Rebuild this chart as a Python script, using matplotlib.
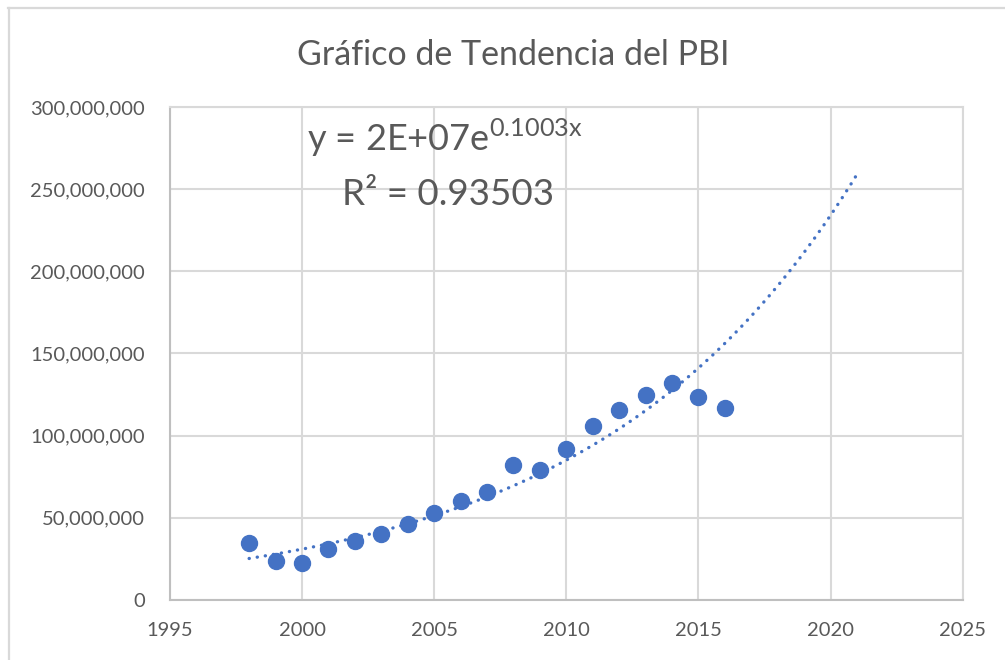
import numpy as np
import matplotlib
matplotlib.use("Agg")
import matplotlib.pyplot as plt
from matplotlib.lines import Line2D

plt.rcParams['font.family'] = ['Lato', 'DejaVu Sans']

years = [1998, 1999, 2000, 2001, 2002, 2003, 2004, 2005, 2006, 2007,
         2008, 2009, 2010, 2011, 2012, 2013, 2014, 2015, 2016]
pbi = [34.7e6, 23.7e6, 22.8e6, 31.0e6, 36.2e6, 40.2e6, 46.2e6, 53.2e6, 60.3e6, 66.0e6,
       82.4e6, 79.4e6, 92.0e6, 106.0e6, 115.8e6, 124.6e6, 132.2e6, 123.8e6, 117.0e6]
forecast_years = 5
title = "Gráfico de Tendencia del PBI"
eq_text = r"y = 2E+07e$^{\mathregular{0.1003x}}$"
r2_text = "R² = 0.93503"
xticks = [1995, 2000, 2005, 2010, 2015, 2020, 2025]
yticks = [0, 50e6, 100e6, 150e6, 200e6, 250e6, 300e6]

blue = "#4472C4"
grey_txt = "#595959"
grid_c = "#D9D9D9"

fig = plt.figure(figsize=(10.05, 6.6), dpi=100)
ax = fig.add_axes([0.169, 0.0909, 0.789, 0.747])

# exponential trendline fitted on index x = 1..n
k = np.arange(1, len(years) + 1)
b, lna = np.polyfit(k, np.log(pbi), 1)
kt = np.linspace(1, len(years) + forecast_years, 200)
yt = np.exp(lna) * np.exp(b * kt)
xt = years[0] + (kt - 1)
ax.plot(xt, yt, color=blue, lw=2.4, linestyle=(0, (0.05, 2.4)),
        dash_capstyle='round', solid_capstyle='round', zorder=3)

ax.plot(years, pbi, 'o', color=blue, markersize=11.5, zorder=4)

ax.set_xlim(1995, 2025)
ax.set_ylim(0, 300e6)
ax.set_xticks(xticks)
ax.set_yticks(yticks)
ax.set_yticklabels([f"{int(v):,}" for v in yticks])
ax.tick_params(axis='both', length=0, labelsize=14.5, colors=grey_txt)
ax.tick_params(axis='x', pad=16)
ax.tick_params(axis='y', pad=18)
ax.grid(True, color=grid_c, lw=1.5, zorder=0)
ax.set_axisbelow(True)
for s in ['top', 'right']:
    ax.spines[s].set_color(grid_c)
    ax.spines[s].set_linewidth(1.5)
for s in ['left', 'bottom']:
    ax.spines[s].set_color("#BFBFBF")
    ax.spines[s].set_linewidth(1.5)

fig.text(0.511, 0.917, title, ha='center', va='center', fontsize=24.5, color=grey_txt)
ax.text(2000.2, 281e6, eq_text, ha='left', va='center', fontsize=26, color=grey_txt, zorder=5)
ax.text(2001.5, 247e6, r2_text, ha='left', va='center', fontsize=26.5, color=grey_txt, zorder=5)

# chart border (top and left visible)
fig.add_artist(Line2D([8/1005, 1.0], [1 - 8/660, 1 - 8/660], color=grid_c, lw=1.6,
                      transform=fig.transFigure))
fig.add_artist(Line2D([8.5/1005, 8.5/1005], [1 - 8/660, 0], color=grid_c, lw=1.6,
                      transform=fig.transFigure))

fig.savefig("out.png", dpi=100)
